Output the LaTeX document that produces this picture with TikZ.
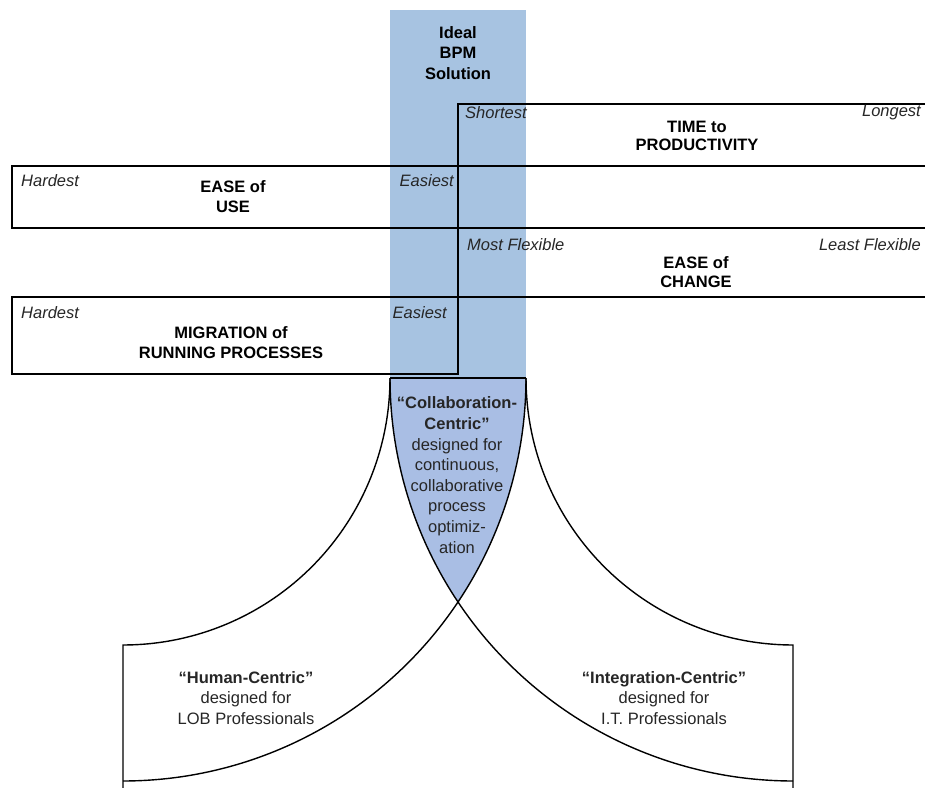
\documentclass[tikz,border=0pt]{standalone}
\usepackage{fontspec}
\setmainfont{Liberation Sans}
\definecolor{colblue}{HTML}{A7C3E1}
\definecolor{colblue2}{HTML}{A9BEE4}
\definecolor{txt}{HTML}{262626}
\begin{document}
\begin{tikzpicture}[x=1pt,y=-1pt,
  lab/.style={font=\fontsize{16.5}{20}\selectfont\itshape, inner sep=0pt, text=txt},
  head/.style={font=\fontsize{16.5}{#1}\selectfont\bfseries, align=center, inner sep=0pt, text=black},
  head/.default=19,
  body/.style={font=\fontsize{16.5}{20.6}\selectfont, align=center, inner sep=0pt, text=txt},
  edge/.style={line width=1.4pt, draw=black, line join=miter}]
\useasboundingbox (0,0) rectangle (925,787);
% ideal column
\fill[colblue] (390,10) rectangle (526,378);
% collaboration-centric lens
\fill[colblue2] (390,378) -- (526,378)
  -- plot[domain=0:33.76, samples=40] ({123+403*cos(\x)},{378+403*sin(\x)})
  -- plot[domain=146.24:180, samples=40] ({793+403*cos(\x)},{378+403*sin(\x)}) -- cycle;
% bands
\draw[edge] (458,104) rectangle (945,166);
\draw[edge] (12,166) rectangle (458,228);
\draw[edge] (458,228) rectangle (945,297);
\draw[edge] (12,297) rectangle (458,374);
% arcs
\draw[edge] (390,378) -- (526,378);
\draw[edge] plot[domain=0:90, samples=80, smooth] ({123+403*cos(\x)},{378+403*sin(\x)});
\draw[edge] plot[domain=180:90, samples=80, smooth] ({793+403*cos(\x)},{378+403*sin(\x)});
\draw[edge] plot[domain=0:90, samples=60, smooth] ({123+267*cos(\x)},{378+267*sin(\x)}) -- (123,800);
\draw[edge] plot[domain=180:90, samples=60, smooth] ({793+267*cos(\x)},{378+267*sin(\x)}) -- (793,800);
% texts
\node[head=20.5] (ideal) at (458,53) {Ideal\\BPM\\Solution};
\node[lab, anchor=west] (short) at (465,113) {Shortest};
\node[head=18] (time) at (697,136) {TIME to\\PRODUCTIVITY};
\node[lab, anchor=east] (long) at (921,113) {Longest};
\node[lab, anchor=west] (hard1) at (21,181) {Hardest};
\node[head=20] (use) at (233,197) {EASE of\\USE};
\node[lab, anchor=east] (easy1) at (454,181) {Easiest};
\node[lab, anchor=west] (flex) at (467,245) {Most Flexible};
\node[head=19] (change) at (696,272) {EASE of\\CHANGE};
\node[lab, anchor=east] (lflex) at (921,245) {Least Flexible};
\node[lab, anchor=west] (hard2) at (21,313) {Hardest};
\node[head=20] (migr) at (231,343) {MIGRATION of\\RUNNING PROCESSES};
\node[lab, anchor=east] (easy2) at (447,313) {Easiest};
\node[body] (collab) at (457,475) {\textbf{“Collaboration-}\\\textbf{Centric"}\\designed for\\continuous,\\collaborative\\process\\optimiz-\\ation};
\node[body] (human) at (246,698) {\textbf{“Human-Centric"}\\designed for\\LOB Professionals};
\node[body] (integ) at (664,698) {\textbf{“Integration-Centric"}\\designed for\\I.T. Professionals};
\end{tikzpicture}
\end{document}
